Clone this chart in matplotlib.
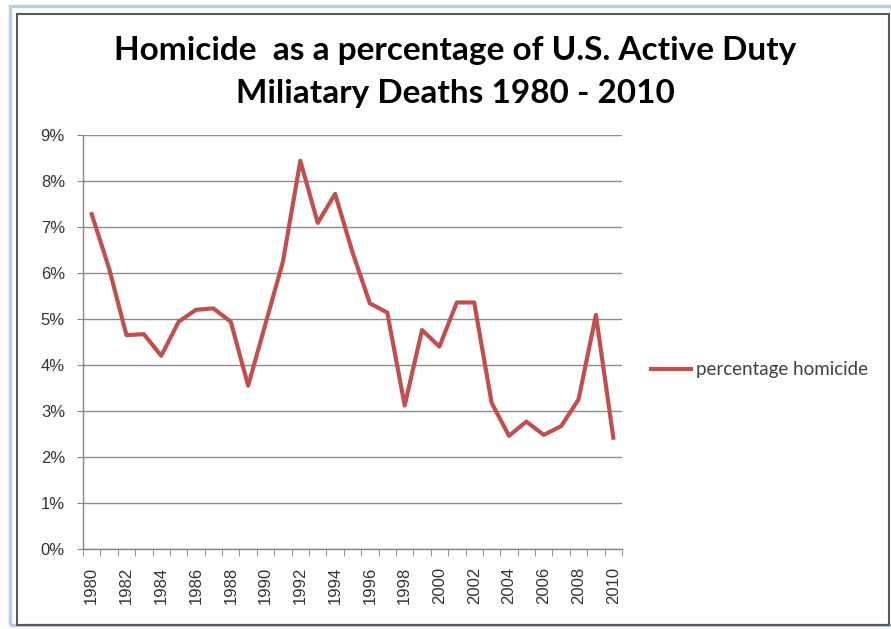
import matplotlib
matplotlib.use('Agg')
from matplotlib import pyplot
from matplotlib.patches import Rectangle
from matplotlib.ticker import FuncFormatter, MultipleLocator

pyplot.rcParams['font.family'] = 'Liberation Sans'

years = list(range(1980, 2011))
homicide_pct = [7.28, 6.10, 4.65, 4.67, 4.20, 4.94, 5.20, 5.23, 4.94, 3.55,
                4.90, 6.25, 8.44, 7.09, 7.72, 6.45, 5.34, 5.14, 3.12, 4.76,
                4.40, 5.36, 5.36, 3.18, 2.46, 2.77, 2.48, 2.67, 3.25, 5.09,
                2.42]
series_label = 'percentage homicide'
title = 'Homicide  as a percentage of U.S. Active Duty\nMiliatary Deaths 1980 - 2010'

W, H = 891, 629
fig = pyplot.figure(figsize=(W / 100, H / 100), dpi=100)

# frame around the chart (excel style)
fig.patches.append(Rectangle((9.5 / W, 4.5 / H), 883 / W, 619 / H, transform=fig.transFigure,
                             fill=False, edgecolor='#b8cce4', linewidth=2.5))
fig.patches.append(Rectangle((17 / W, 4 / H), 872 / W, 611 / H, transform=fig.transFigure,
                             fill=False, edgecolor='#5a5a5a', linewidth=1.5))

ax = fig.add_axes([83 / W, 80 / H, 539 / W, 414 / H])
line, = ax.plot(years, homicide_pct, color='#c0504d', linewidth=3, label=series_label)

ax.set_xlim(1979.5, 2010.5)
ax.set_ylim(0, 9)
ax.yaxis.set_major_locator(MultipleLocator(1))
ax.yaxis.set_major_formatter(FuncFormatter(lambda v, p: '%d%%' % v))
ax.set_xticks(years[::2])
ax.set_xticks([y - 0.5 for y in years] + [years[-1] + 0.5], minor=True)
ax.tick_params(axis='x', which='major', length=0, labelrotation=90, pad=13,
               labelsize=12, labelcolor='#333333')
ax.tick_params(axis='x', which='minor', length=5, color='#868686', direction='out')
ax.tick_params(axis='y', length=4.5, color='#868686', direction='out', pad=8.5,
               labelsize=12, labelcolor='#333333')
ax.grid(axis='y', color='#8c8c8c', linewidth=1)
ax.set_axisbelow(True)
for s in ['top', 'right']:
    ax.spines[s].set_visible(False)
for s in ['left', 'bottom']:
    ax.spines[s].set_color('#868686')
    ax.spines[s].set_linewidth(1)

fig.text(455 / W, 1 - 72 / H, title, ha='center', va='center', fontsize=24,
         fontweight='bold', family='Lato', linespacing=1.6, color='black')

ax.legend(handles=[line], loc='center left', bbox_to_anchor=(651 / W, 1 - 370 / H),
          bbox_transform=fig.transFigure, frameon=False, handlelength=2.15,
          handletextpad=0.27, borderpad=0, borderaxespad=0,
          prop={'family': 'Lato', 'size': 13.5}, labelcolor='#404040')

fig.savefig('out.png', dpi=100)
